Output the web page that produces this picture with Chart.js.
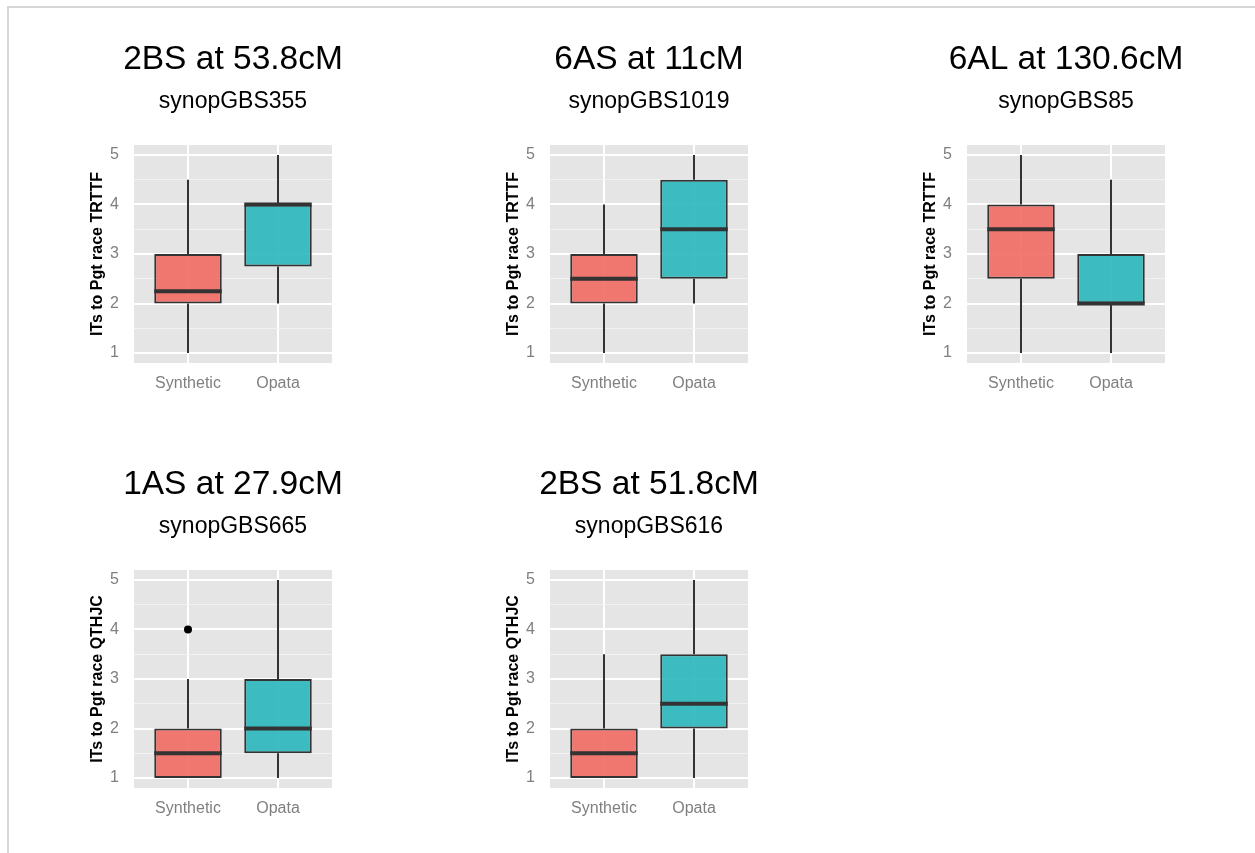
<!DOCTYPE html>
<html>
<head>
<meta charset="utf-8">
<script src="https://cdn.jsdelivr.net/npm/chart.js@4.4.1/dist/chart.umd.min.js"></script>
<style>
  html, body { margin: 0; padding: 0; background: #ffffff; }
  body { width: 1255px; height: 853px; position: relative; overflow: hidden; }
  #frame { position: absolute; left: 7px; top: 6px; right: -4px; bottom: -4px;
           border-top: 2px solid #d6d6d6; border-left: 2px solid #d6d6d6; }
  canvas { position: absolute; }
</style>
</head>
<body>
<div id="frame"></div>
<canvas id="panel0" width="306" height="383" style="left:80px;top:20px"></canvas>
<canvas id="panel1" width="306" height="383" style="left:496px;top:20px"></canvas>
<canvas id="panel2" width="306" height="383" style="left:913px;top:20px"></canvas>
<canvas id="panel3" width="306" height="383" style="left:80px;top:445px"></canvas>
<canvas id="panel4" width="306" height="383" style="left:496px;top:445px"></canvas>
<script>
// Groups compared in every panel
const CATEGORIES = ['Synthetic', 'Opata'];

// Panel headings: marker position and marker name
const PANEL_TITLES = ['2BS at 53.8cM', '6AS at 11cM', '6AL at 130.6cM', '1AS at 27.9cM', '2BS at 51.8cM'];
const PANEL_MARKERS = ['synopGBS355', 'synopGBS1019', 'synopGBS85', 'synopGBS665', 'synopGBS616'];
const PANEL_Y_TITLES = [
  'ITs to Pgt race TRTTF', 'ITs to Pgt race TRTTF', 'ITs to Pgt race TRTTF',
  'ITs to Pgt race QTHJC', 'ITs to Pgt race QTHJC'
];

// Box summaries per panel: [lower whisker, Q1, median, Q3, upper whisker]
const SYNTHETIC_STATS = [
  [1, 2, 2.25, 3, 4.5],
  [1, 2, 2.5, 3, 4],
  [1, 2.5, 3.5, 4, 5],
  [1, 1, 1.5, 2, 3],
  [1, 1, 1.5, 2, 3.5]
];
const OPATA_STATS = [
  [2, 2.75, 4, 4, 5],
  [2, 2.5, 3.5, 4.5, 5],
  [1, 2, 2, 3, 4.5],
  [1, 1.5, 2, 3, 5],
  [1, 2, 2.5, 3.5, 5]
];
// Points beyond the whiskers
const SYNTHETIC_OUTLIERS = [[], [], [], [4], []];
const OPATA_OUTLIERS = [[], [], [], [], []];

// Infection-type scale
const Y_TICKS = [1, 2, 3, 4, 5];
const Y_MINOR = [1.5, 2.5, 3.5, 4.5];
const Y_MIN = 0.8, Y_MAX = 5.2;
const X_MIN = 0.4, X_MAX = 2.6;
const BOX_WIDTH = 0.75;

const FILLS = ['rgba(241,105,99,0.9)', 'rgba(41,182,187,0.9)'];
const INK = '#333333';
const FONT = "'Liberation Sans', Arial, Helvetica, sans-serif";
Chart.defaults.font.family = FONT;

const Y_GRID = [...Y_TICKS, ...Y_MINOR].sort((a, b) => a - b);
const isMajor = v => Y_TICKS.includes(v);

// grey panel behind the grid lines
const panelBackground = {
  id: 'panelBackground',
  beforeDraw(chart) {
    const { ctx, chartArea: a } = chart;
    ctx.save();
    ctx.fillStyle = '#e5e5e5';
    ctx.fillRect(a.left, a.top, a.right - a.left, a.bottom - a.top);
    ctx.restore();
  }
};

function segment(points, width, order) {
  return {
    type: 'line', data: points, borderColor: INK, borderWidth: width,
    borderCapStyle: 'butt', pointRadius: 0, fill: false, tension: 0, order
  };
}

function panelDatasets(p) {
  const stats = [SYNTHETIC_STATS[p], OPATA_STATS[p]];
  const outliers = [SYNTHETIC_OUTLIERS[p], OPATA_OUTLIERS[p]];
  const sets = [];
  // boxes from Q1 to Q3
  sets.push({
    type: 'bar',
    data: stats.map((s, i) => ({ x: i + 1, y: [s[1], s[3]] })),
    backgroundColor: FILLS, borderColor: INK, borderWidth: 2, borderSkipped: false,
    barPercentage: BOX_WIDTH, categoryPercentage: 1, order: 2
  });
  stats.forEach((s, i) => {
    const c = i + 1;
    sets.push(segment([{ x: c, y: s[0] }, { x: c, y: s[1] }], 2, 3));
    sets.push(segment([{ x: c, y: s[3] }, { x: c, y: s[4] }], 2, 3));
    sets.push(segment([{ x: c - BOX_WIDTH / 2, y: s[2] }, { x: c + BOX_WIDTH / 2, y: s[2] }], 4, 1));
  });
  const pts = [];
  outliers.forEach((list, i) => list.forEach(v => pts.push({ x: i + 1, y: v })));
  sets.push({
    type: 'scatter', data: pts, pointRadius: 4, pointBackgroundColor: '#000',
    pointBorderWidth: 0, showLine: false, order: 0
  });
  return sets;
}

function buildPanel(p) {
  const canvas = document.getElementById('panel' + p);
  return new Chart(canvas, {
    type: 'bar',
    data: { datasets: panelDatasets(p) },
    plugins: [panelBackground],
    options: {
      responsive: false,
      animation: false,
      devicePixelRatio: 1,
      events: [],
      layout: { padding: 0 },
      plugins: {
        legend: { display: false },
        tooltip: { enabled: false },
        title: {
          display: true, text: PANEL_TITLES[p], color: '#000',
          font: { size: 33.5, weight: 'normal' }, padding: { top: 19.9, bottom: 0 }
        },
        subtitle: {
          display: true, text: PANEL_MARKERS[p], color: '#000',
          font: { size: 23, weight: 'normal' }, padding: { top: 7.5, bottom: 29.8 }
        }
      },
      scales: {
        x: {
          type: 'linear', min: X_MIN, max: X_MAX, offset: false, bounds: 'data',
          afterBuildTicks: s => { s.ticks = CATEGORIES.map((_, i) => ({ value: i + 1 })); },
          afterFit: s => { s.height = 40; },
          grid: { color: '#ffffff', lineWidth: 2, drawTicks: false, offset: false },
          border: { display: false },
          ticks: {
            padding: 11, color: '#7f7f7f', font: { size: 16 }, autoSkip: false,
            maxRotation: 0, callback: (v, i) => CATEGORIES[i]
          }
        },
        y: {
          type: 'linear', min: Y_MIN, max: Y_MAX, beginAtZero: false,
          afterBuildTicks: s => { s.ticks = Y_GRID.map(v => ({ value: v })); },
          afterFit: s => { s.width = 54; },
          grid: {
            color: c => (c.tick && isMajor(c.tick.value)) ? '#ffffff' : '#f2f2f2',
            lineWidth: c => (c.tick && isMajor(c.tick.value)) ? 2 : 1,
            drawTicks: false
          },
          border: { display: false },
          ticks: {
            padding: 15, color: '#7f7f7f', font: { size: 16 }, autoSkip: false,
            callback: v => isMajor(v) ? String(v) : ''
          },
          title: {
            display: true, text: PANEL_Y_TITLES[p], color: '#000',
            font: { size: 16, weight: 'bold' }, padding: { top: 8, bottom: 0 }
          }
        },
        // empty margin on the right so the headings centre over the panel
        yMargin: {
          type: 'linear', position: 'right', display: true,
          grid: { display: false }, border: { display: false },
          ticks: { display: false },
          afterFit: s => { s.width = 54; }
        }
      }
    }
  });
}

for (let p = 0; p < PANEL_TITLES.length; p++) buildPanel(p);
</script>
</body>
</html>
